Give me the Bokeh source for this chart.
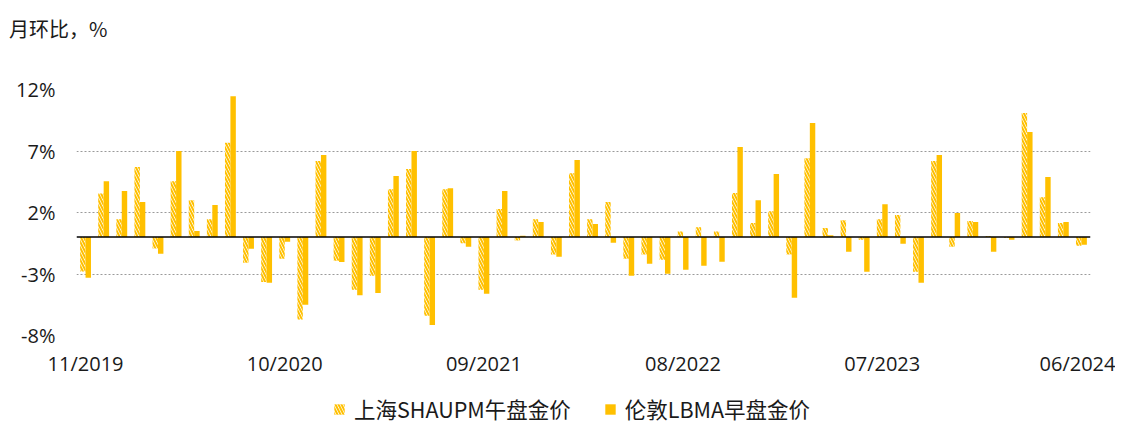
from bokeh.plotting import figure
from bokeh.layouts import column
from bokeh.models import (ColumnDataSource, FixedTicker, Span, Legend, LegendItem,
                          PrintfTickFormatter)
from bokeh.transform import dodge
from bokeh.embed import file_html
from bokeh.resources import INLINE

months = ["11/2019", "12/2019",
          "01/2020", "02/2020", "03/2020", "04/2020", "05/2020", "06/2020",
          "07/2020", "08/2020", "09/2020", "10/2020", "11/2020", "12/2020",
          "01/2021", "02/2021", "03/2021", "04/2021", "05/2021", "06/2021",
          "07/2021", "08/2021", "09/2021", "10/2021", "11/2021", "12/2021",
          "01/2022", "02/2022", "03/2022", "04/2022", "05/2022", "06/2022",
          "07/2022", "08/2022", "09/2022", "10/2022", "11/2022", "12/2022",
          "01/2023", "02/2023", "03/2023", "04/2023", "05/2023", "06/2023",
          "07/2023", "08/2023", "09/2023", "10/2023", "11/2023", "12/2023",
          "01/2024", "02/2024", "03/2024", "04/2024", "05/2024", "06/2024"]

shanghai = [-2.8, 3.55, 1.46, 5.69, -0.92, 4.55, 3.0, 1.46, 7.67, -2.09,
            -3.66, -1.76, -6.69, 6.18, -1.92, -4.28, -3.14, 3.9, 5.53, -6.4,
            3.9, -0.49, -4.28, 2.28, -0.27, 1.46, -1.41, 5.2, 1.46, 2.85,
            -1.76, -1.41, -1.84, 0.46, 0.81, 0.46, 3.58, 1.14, 2.11, -1.41,
            6.42, 0.73, 1.38, -0.22, 1.46, 1.79, -2.82, 6.18, -0.79, 1.3,
            0.08, -0.05, 10.08, 3.25, 1.14, -0.7]

london = [-3.3, 4.55, 3.74, 2.85, -1.36, 6.99, 0.49, 2.6, 11.46, -0.95,
          -3.71, -0.38, -5.5, 6.67, -2.03, -4.72, -4.55, 4.96, 6.99, -7.15,
          3.98, -0.79, -4.61, 3.74, 0.11, 1.22, -1.6, 6.26, 1.06, -0.46,
          -3.14, -2.17, -2.98, -2.66, -2.33, -2.0, 7.32, 3.0, 5.12, -4.93,
          9.27, 0.16, -1.19, -2.82, 2.68, -0.54, -3.71, 6.67, 1.95, 1.22,
          -1.19, -0.22, 8.54, 4.88, 1.22, -0.62]

tick_labels = ["11/2019", "10/2020", "09/2021", "08/2022", "07/2023", "06/2024"]
y_ticks = [-8, -3, 2, 7, 12]

series_names = ["上海SHAUPM午盘金价", "伦敦LBMA早盘金价"]
title_text = "月环比，%"

GOLD = "#FFC000"
TEXT = "#1a1a1a"
NUM_FONT = "Open Sans"
CJK_FONT = "Noto Sans CJK SC"
FS = "20px"
W = 1115

hatch_style = dict(fill_color="white", line_color=None,
                   hatch_pattern="left_diagonal_line", hatch_color=GOLD,
                   hatch_weight=2, hatch_scale=6)
solid_style = dict(fill_color=GOLD, line_color=None)


def strip(height):
    f = figure(frame_width=W, frame_height=height, output_backend="svg",
               toolbar_location=None, x_range=(0, 1), y_range=(0, 1),
               x_axis_type=None, y_axis_type=None, min_border=0)
    f.outline_line_color = None
    f.grid.visible = False
    return f


# ---------- title strip (text placed as a legend label, no swatch) ----------
TH = 50
tf = strip(TH)
off_t = ColumnDataSource(data=dict(left=[5], right=[6], bottom=[5], top=[6]))
tr = tf.quad(left="left", right="right", bottom="bottom", top="top", source=off_t,
             fill_alpha=0, line_alpha=0)
tlegend = Legend(items=[LegendItem(label=title_text, renderers=[tr], index=0)],
                 location=(8, 7), border_line_color=None, background_fill_alpha=0,
                 label_text_font=CJK_FONT, label_text_font_size=FS,
                 label_text_color=TEXT, glyph_width=1, glyph_height=1,
                 label_height=12, label_standoff=0, margin=0, padding=0)
tf.add_layout(tlegend, "center")

# ---------- main chart ----------
idx = list(range(len(months)))
src = ColumnDataSource(data=dict(x=idx, sh=shanghai, ld=london))

p = figure(frame_width=1014, frame_height=246, output_backend="svg",
           toolbar_location=None,
           x_range=(-0.5, len(months) - 0.5), y_range=(y_ticks[0], y_ticks[-1]),
           min_border_left=76, min_border_right=25, min_border_top=39,
           min_border_bottom=0)
p.outline_line_color = None
p.background_fill_color = "white"
p.border_fill_color = "white"

bw = 0.3
p.vbar(x=dodge("x", -0.15, range=p.x_range), top="sh", width=bw, source=src,
       **hatch_style)
p.vbar(x=dodge("x", 0.15, range=p.x_range), top="ld", width=bw, source=src,
       **solid_style)

p.add_layout(Span(location=0, dimension="width", line_color="black", line_width=1.5))

tick_pos = [months.index(t) for t in tick_labels]
p.xaxis.ticker = FixedTicker(ticks=tick_pos)
p.xaxis.major_label_overrides = {i: t for i, t in zip(tick_pos, tick_labels)}
p.xaxis.axis_line_color = None
p.xaxis.major_tick_line_color = None
p.xaxis.minor_tick_line_color = None
p.xaxis.major_tick_out = 0
p.xaxis.major_label_standoff = 14
p.xaxis.major_label_text_font = NUM_FONT
p.xaxis.major_label_text_font_size = FS
p.xaxis.major_label_text_color = TEXT

p.yaxis.ticker = FixedTicker(ticks=y_ticks)
p.yaxis.formatter = PrintfTickFormatter(format="%d%%")
p.yaxis.axis_line_color = None
p.yaxis.major_tick_line_color = None
p.yaxis.minor_tick_line_color = None
p.yaxis.major_tick_out = 0
p.yaxis.major_label_standoff = 21
p.yaxis.major_label_text_font = NUM_FONT
p.yaxis.major_label_text_font_size = FS
p.yaxis.major_label_text_color = TEXT

p.xgrid.grid_line_color = None
p.ygrid.ticker = FixedTicker(ticks=y_ticks)
p.ygrid.grid_line_color = "#9a9a9a"
p.ygrid.grid_line_dash = "2 2"
p.ygrid.grid_line_width = 1

# ---------- legend strip ----------
LH = 60
lf = strip(LH)
# one sample marker per series kept outside the visible range; only its swatch shows
off_l = ColumnDataSource(data=dict(x=[5], y=[5]))
lr1 = lf.scatter(x="x", y="y", marker="square", size=10, source=off_l, **hatch_style)
lr2 = lf.scatter(x="x", y="y", marker="square", size=10, source=off_l, **solid_style)
legend = Legend(items=[LegendItem(label=series_names[0], renderers=[lr1], index=0),
                       LegendItem(label=series_names[1], renderers=[lr2], index=0)],
                orientation="horizontal", location=(326, 15),
                border_line_color=None, background_fill_alpha=0,
                label_text_font=CJK_FONT, label_text_font_size="21.5px",
                label_text_color=TEXT, glyph_width=26, glyph_height=26,
                label_height=12, spacing=26, label_standoff=2,
                margin=0, padding=0)
lf.add_layout(legend, "center")

layout = column(tf, p, lf, spacing=0)
open("out.html", "w").write(file_html(layout, INLINE))
